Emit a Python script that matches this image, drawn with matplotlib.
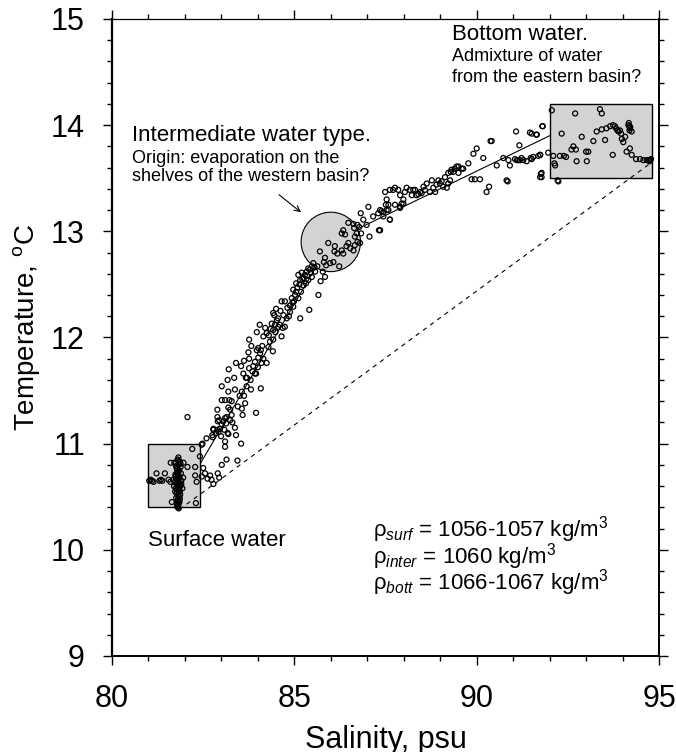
import numpy as np
import matplotlib.pyplot as plt
from matplotlib.patches import Rectangle, Ellipse

plt.rcParams['font.family'] = ['Liberation Sans', 'DejaVu Sans']
plt.rcParams['mathtext.fontset'] = 'custom'
plt.rcParams['mathtext.rm'] = 'Liberation Sans'
plt.rcParams['mathtext.it'] = 'Liberation Sans:italic'
plt.rcParams['mathtext.bf'] = 'Liberation Sans:bold'

# surface water cluster (salinity psu, temperature C)
surf_sal = [81.80, 81.82, 81.78, 81.85, 81.80, 81.76, 81.84, 81.81, 81.78, 81.86,
            81.82, 81.75, 81.80, 81.88, 81.77, 81.84, 81.72, 81.80, 81.90, 81.76,
            81.85, 81.81, 81.74, 81.89, 81.79, 81.84, 81.77, 81.88, 81.82, 81.75,
            81.86, 81.80, 81.70, 81.93, 81.68, 81.95, 81.83, 81.79, 81.87, 81.73,
            81.02, 81.06, 81.10, 81.14, 81.30, 81.34, 81.38, 81.45, 81.22, 81.55,
            81.60, 82.20, 81.82, 81.61, 81.71, 81.96, 82.07, 82.28, 82.41, 82.46,
            82.50, 82.55, 82.62, 82.73, 82.78, 82.69, 82.90, 82.94, 83.01, 83.14,
            83.44, 82.32, 82.28, 82.46, 82.30, 81.64, 81.83, 81.79, 81.86, 81.81,
            81.77, 81.84, 81.80, 81.87, 81.82, 81.78, 81.85, 81.80, 81.83, 81.79,
            81.76, 81.88, 81.81, 81.84, 81.90, 81.74]
surf_temp = [10.40, 10.42, 10.44, 10.45, 10.47, 10.49, 10.50, 10.52, 10.54, 10.55,
             10.57, 10.58, 10.60, 10.60, 10.62, 10.63, 10.64, 10.65, 10.65, 10.67,
             10.68, 10.70, 10.71, 10.72, 10.73, 10.75, 10.77, 10.78, 10.80, 10.82,
             10.83, 10.85, 10.60, 10.58, 10.66, 10.68, 10.46, 10.41, 10.52, 10.55,
             10.65, 10.66, 10.65, 10.64, 10.65, 10.66, 10.65, 10.72, 10.72, 10.66,
             10.64, 10.95, 10.87, 10.82, 10.82, 10.82, 10.78, 10.78, 10.88, 10.99,
             10.77, 10.72, 10.67, 10.66, 10.62, 10.70, 10.72, 10.68, 10.80, 10.85,
             10.84, 10.64, 10.70, 10.69, 10.44, 10.45, 10.39, 10.43, 10.48, 10.51,
             10.53, 10.56, 10.59, 10.61, 10.63, 10.66, 10.69, 10.71, 10.74, 10.76,
             10.79, 10.81, 10.84, 10.58, 10.62, 10.69]

# rising branch 82.5-84.6 psu
rise_sal = [82.48, 82.59, 82.75, 82.78, 82.90, 82.99, 83.08, 83.13, 83.19, 83.37,
            83.54, 83.10, 82.07, 82.85, 82.76, 82.92, 82.96, 83.01, 83.05, 83.10,
            83.17, 83.10, 83.40, 82.89, 82.78, 82.94, 82.89, 83.14, 83.24, 83.19,
            83.10, 83.28, 83.24, 83.58, 83.56, 83.65, 83.95, 82.89, 83.22, 83.28,
            83.01, 83.17, 83.01, 83.19, 83.37, 83.56, 83.69, 83.81, 83.80, 83.67,
            83.60, 83.76, 83.87, 83.92, 84.08, 83.95, 83.40, 83.54, 83.62, 83.74,
            83.76, 83.92, 84.01, 83.97, 84.06, 84.15, 84.10, 84.24, 83.76, 83.97,
            84.01, 84.08, 84.15, 84.20, 84.24, 84.29, 84.33, 84.42, 84.41, 84.42,
            84.38, 84.45, 84.52, 84.56, 84.42, 84.48, 84.55, 84.60, 84.50, 84.62,
            83.30, 83.45, 83.50, 83.62, 83.70, 83.85, 84.00, 84.12, 84.30, 84.35,
            84.47, 83.82, 84.05, 83.35, 83.20]
rise_temp = [11.00, 11.05, 11.08, 11.13, 11.21, 11.07, 11.13, 11.19, 11.09, 11.15,
             11.00, 10.97, 11.25, 11.10, 11.06, 11.11, 11.14, 11.18, 11.21, 11.24,
             11.10, 11.02, 11.08, 11.13, 11.14, 11.22, 11.25, 11.25, 11.32, 11.34,
             11.41, 11.27, 11.22, 11.27, 11.33, 11.38, 11.29, 11.32, 11.41, 11.40,
             11.54, 11.60, 11.41, 11.49, 11.51, 11.49, 11.54, 11.51, 11.60, 11.62,
             11.66, 11.71, 11.73, 11.66, 11.52, 11.66, 11.76, 11.73, 11.78, 11.86,
             11.80, 11.77, 11.81, 11.88, 11.85, 11.80, 11.76, 11.76, 11.98, 12.05,
             11.90, 11.88, 12.01, 12.09, 12.04, 11.91, 11.96, 11.98, 11.87, 12.07,
             12.13, 12.21, 12.16, 12.10, 12.23, 12.05, 12.18, 12.12, 12.27, 12.25,
             11.20, 11.35, 11.45, 11.45, 11.62, 11.68, 11.72, 11.92, 12.02, 12.08,
             12.12, 11.92, 12.12, 11.62, 11.70]

# intermediate water, 84.6-88 psu
inter_sal = [84.65, 84.74, 84.68, 84.79, 84.70, 84.81, 84.74, 84.65, 84.88, 84.97,
             84.93, 85.02, 84.97, 85.08, 85.05, 85.16, 85.11, 85.20, 85.25, 85.29,
             85.34, 85.38, 85.43, 85.48, 85.52, 85.57, 85.48, 85.38, 85.32, 85.25,
             85.18, 85.11, 84.99, 84.88, 85.16, 85.41, 85.66, 85.72, 85.78, 85.84,
             85.87, 85.63, 85.70, 85.84, 85.81, 85.98, 86.07, 86.23, 85.93, 86.10,
             86.11, 86.18, 86.30, 86.34, 86.43, 86.48, 86.53, 86.62, 86.66, 86.73,
             86.30, 86.34, 86.39, 86.48, 86.64, 86.66, 86.71, 86.73, 86.80, 86.83,
             86.62, 86.82, 87.03, 86.89, 87.16, 87.30, 87.35, 87.44, 87.51, 87.58,
             87.62, 87.76, 87.90, 87.99, 87.06, 87.32, 86.98, 86.78, 87.35, 87.62,
             87.90, 84.85, 84.95, 85.05, 85.14, 85.22, 85.35, 85.45, 85.55]
inter_temp = [12.01, 12.10, 12.09, 12.18, 12.21, 12.28, 12.34, 12.34, 12.24, 12.29,
              12.37, 12.40, 12.45, 12.47, 12.51, 12.54, 12.59, 12.61, 12.56, 12.59,
              12.62, 12.65, 12.64, 12.67, 12.70, 12.62, 12.57, 12.54, 12.51, 12.49,
              12.43, 12.37, 12.34, 12.30, 12.18, 12.26, 12.40, 12.53, 12.62, 12.57,
              12.68, 12.67, 12.81, 12.75, 12.71, 12.70, 12.71, 12.67, 12.89, 12.81,
              12.86, 12.79, 12.82, 12.79, 12.86, 12.89, 12.84, 12.82, 12.87, 12.90,
              12.98, 13.01, 12.97, 13.08, 13.03, 12.95, 12.98, 13.06, 12.89, 12.98,
              13.07, 13.17, 13.23, 13.11, 13.14, 13.17, 13.20, 13.18, 13.25, 13.20,
              13.11, 13.25, 13.23, 13.26, 12.95, 13.01, 13.06, 13.04, 13.01, 13.11,
              13.22, 12.20, 12.33, 12.43, 12.50, 12.55, 12.58, 12.61, 12.66]

# upper branch 87.4-92 psu
upper_sal = [87.44, 87.39, 87.53, 87.58, 87.53, 87.49, 87.62, 87.71, 87.76, 87.85,
             87.90, 87.94, 87.99, 88.03, 88.08, 88.17, 88.22, 88.26, 88.31, 88.35,
             88.40, 88.49, 88.58, 88.54, 88.63, 88.72, 88.77, 88.81, 88.86, 88.90,
             88.95, 88.99, 89.04, 89.08, 89.13, 89.18, 89.22, 89.27, 89.31, 89.36,
             89.40, 89.50, 89.50, 89.59, 89.63, 89.77, 89.86, 89.95, 90.09, 90.00,
             90.18, 90.27, 90.34, 90.38, 90.55, 90.85, 90.87, 90.91, 91.05, 91.08,
             91.17, 91.14, 91.23, 91.28, 91.37, 91.46, 91.48, 91.55, 91.65, 91.74,
             91.80, 91.78, 91.78, 91.96, 90.73, 90.82, 91.10, 91.19, 91.51, 91.69,
             91.74, 91.63, 91.51, 91.81, 90.41, 89.91, 89.45, 89.29, 89.22, 88.45,
             91.76, 91.74]
upper_temp = [13.14, 13.19, 13.20, 13.25, 13.30, 13.37, 13.39, 13.39, 13.41, 13.39,
              13.34, 13.26, 13.30, 13.37, 13.41, 13.39, 13.34, 13.39, 13.39, 13.34,
              13.35, 13.36, 13.39, 13.42, 13.45, 13.37, 13.48, 13.41, 13.37, 13.44,
              13.48, 13.45, 13.47, 13.42, 13.51, 13.41, 13.45, 13.48, 13.58, 13.56,
              13.59, 13.61, 13.55, 13.59, 13.59, 13.64, 13.49, 13.49, 13.49, 13.78,
              13.69, 13.37, 13.42, 13.85, 13.62, 13.47, 13.67, 13.62, 13.68, 13.94,
              13.81, 13.67, 13.69, 13.67, 13.66, 13.93, 13.69, 13.70, 13.91, 13.72,
              13.99, 13.55, 13.51, 13.74, 13.69, 13.48, 13.67, 13.67, 13.68, 13.71,
              13.72, 13.91, 13.92, 13.99, 13.85, 13.73, 13.61, 13.56, 13.55, 13.37,
              13.54, 13.51]

# bottom water cluster
bott_sal = [92.06, 92.70, 93.38, 93.43, 92.33, 92.88, 93.20, 93.29, 93.43, 93.56,
            93.66, 93.74, 93.79, 93.82, 93.86, 93.89, 93.93, 93.96, 93.98, 94.02,
            94.07, 94.16, 94.19, 94.20, 94.19, 94.25, 94.20, 94.11, 94.25, 94.37,
            94.48, 94.57, 94.66, 94.71, 94.75, 94.78, 94.74, 93.73, 93.52, 92.65,
            92.72, 93.00, 93.06, 93.02, 92.74, 92.10, 92.15, 92.28, 92.39, 92.45,
            92.60, 92.22, 92.13, 92.24, 94.17, 94.21]
bott_temp = [14.14, 14.11, 14.15, 14.11, 13.92, 13.89, 13.85, 13.94, 13.96, 13.97,
             13.99, 14.00, 13.99, 13.97, 13.95, 13.94, 13.95, 13.92, 13.87, 13.84,
             13.89, 14.00, 13.99, 13.97, 13.95, 13.94, 13.78, 13.75, 13.72, 13.68,
             13.68, 13.67, 13.67, 13.67, 13.67, 13.68, 13.66, 13.72, 13.86, 13.80,
             13.77, 13.75, 13.75, 13.66, 13.66, 13.71, 13.62, 13.71, 13.71, 13.70,
             13.77, 13.48, 13.64, 13.47, 14.02, 13.98]

# mixing lines
mix_sal = [82.4, 86.0, 92.0]
mix_temp = [10.8, 12.9, 13.9]
dash_sal = [81.85, 94.8]
dash_temp = [10.38, 13.65]

sal = np.concatenate([surf_sal, rise_sal, inter_sal, upper_sal, bott_sal])
temp = np.concatenate([surf_temp, rise_temp, inter_temp, upper_temp, bott_temp])

fig = plt.figure(figsize=(6.76, 7.52), dpi=100)
ax = fig.add_axes([0.1657, 0.1277, 0.8092, 0.8471])

grey = '#d3d3d3'
ax.add_patch(Rectangle((81.0, 10.4), 1.4, 0.6, facecolor=grey, edgecolor='black', lw=1.0, zorder=2))
ax.add_patch(Rectangle((92.0, 13.5), 2.8, 0.7, facecolor=grey, edgecolor='black', lw=1.0, zorder=2))
ax.add_patch(Ellipse((86.0, 12.9), 1.63, 0.56, facecolor=grey, edgecolor='black', lw=0.8, zorder=2))

ax.plot(mix_sal, mix_temp, color='black', lw=0.8, zorder=1)
ax.plot(dash_sal, dash_temp, color='black', lw=0.8, ls=(0, (4, 4)), zorder=3)

ax.scatter(sal, temp, s=13, facecolors='none', edgecolors='black', linewidths=0.9, zorder=4)

# annotations
ax.text(89.32, 14.80, 'Bottom water.', fontsize=16)
ax.text(89.32, 14.60, 'Admixture of water', fontsize=13)
ax.text(89.32, 14.41, 'from the eastern basin?', fontsize=13)

ax.text(80.54, 13.851, 'Intermediate water type.', fontsize=16)
ax.text(80.54, 13.644, 'Origin: evaporation on the', fontsize=13)
ax.text(80.54, 13.474, 'shelves of the western basin?', fontsize=13)
ax.annotate('', xy=(85.24, 13.163), xytext=(84.52, 13.361),
            arrowprops=dict(arrowstyle='->', lw=0.8, color='black'))

ax.text(81.0, 10.036, 'Surface water', fontsize=16)

ax.text(87.15, 10.121, 'ρ$_{surf}$ = 1056-1057 kg/m$^3$', fontsize=16)
ax.text(87.15, 9.867, 'ρ$_{inter}$ = 1060 kg/m$^3$', fontsize=16)
ax.text(87.15, 9.622, 'ρ$_{bott}$ = 1066-1067 kg/m$^3$', fontsize=16)

ax.set_xlim(80, 95)
ax.set_ylim(9, 15)
ax.set_xticks([80, 85, 90, 95])
ax.set_xticks(np.arange(80, 96, 1), minor=True)
ax.set_yticks([9, 10, 11, 12, 13, 14, 15])
ax.set_yticks(np.arange(9, 15.01, 0.2), minor=True)
ax.tick_params(which='both', direction='out', top=True, right=True, width=1.0)
ax.tick_params(which='major', length=6.5, labelsize=22)
ax.tick_params(which='minor', length=3.3)
ax.tick_params(axis='x', which='major', pad=14)
ax.tick_params(axis='y', which='major', pad=13)

for side, lw in [('left', 1.6), ('bottom', 1.4), ('right', 1.4), ('top', 0.9)]:
    ax.spines[side].set_linewidth(lw)

ax.set_xlabel('Salinity, psu', fontsize=22)
ax.set_ylabel(r'Temperature, $\mathregular{^oC}$', fontsize=20)
ax.xaxis.set_label_coords(0.5, -0.108)
ax.yaxis.set_label_coords(-0.128, 0.515)

fig.savefig('out.png', dpi=100)
